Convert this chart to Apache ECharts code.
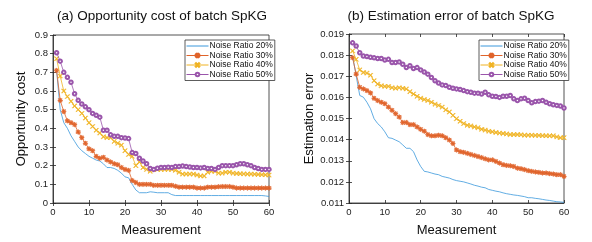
<!DOCTYPE html>
<html><head><meta charset="utf-8">
<script src="https://cdn.jsdelivr.net/npm/echarts@6/dist/echarts.min.js"></script>
<style>html,body{margin:0;padding:0;background:#fff}#c{width:592px;height:242px}</style>
</head><body><div id="c"></div>
<script>
const measurements = Array.from({length: 60}, (_, i) => i + 1);
const seriesNames = ['Noise Ratio 20%', 'Noise Ratio 30%', 'Noise Ratio 40%', 'Noise Ratio 50%'];

// (a) Opportunity cost
const oc20 = [0.71,0.50,0.43,0.40,0.36,0.33,0.30,0.28,0.265,0.25,0.24,0.23,0.225,0.21,0.19,0.19,0.185,0.175,0.16,0.14,0.135,0.10,0.07,0.055,0.055,0.055,0.06,0.058,0.055,0.055,0.055,0.055,0.045,0.04,0.04,0.04,0.04,0.04,0.04,0.04,0.04,0.04,0.04,0.04,0.04,0.04,0.04,0.04,0.04,0.04,0.04,0.04,0.04,0.04,0.04,0.04,0.04,0.04,0.038,0.035];
const oc30 = [0.71,0.55,0.49,0.44,0.43,0.42,0.38,0.35,0.32,0.29,0.28,0.25,0.24,0.245,0.23,0.22,0.21,0.205,0.19,0.18,0.175,0.12,0.11,0.10,0.10,0.10,0.10,0.095,0.095,0.095,0.095,0.095,0.095,0.09,0.085,0.085,0.085,0.085,0.085,0.08,0.08,0.08,0.085,0.085,0.085,0.087,0.088,0.088,0.088,0.085,0.08,0.08,0.08,0.08,0.08,0.08,0.08,0.08,0.08,0.08];
const oc40 = [0.773,0.68,0.60,0.57,0.545,0.52,0.50,0.48,0.455,0.43,0.41,0.39,0.375,0.355,0.35,0.35,0.33,0.32,0.31,0.28,0.26,0.25,0.20,0.22,0.19,0.18,0.17,0.18,0.18,0.18,0.18,0.18,0.18,0.175,0.165,0.155,0.155,0.155,0.155,0.15,0.145,0.145,0.165,0.17,0.17,0.16,0.16,0.165,0.165,0.16,0.158,0.157,0.156,0.155,0.155,0.154,0.153,0.152,0.151,0.15];
const oc50 = [0.805,0.76,0.70,0.673,0.647,0.585,0.55,0.53,0.515,0.50,0.48,0.47,0.46,0.39,0.39,0.365,0.357,0.357,0.35,0.348,0.345,0.27,0.265,0.24,0.225,0.21,0.185,0.18,0.186,0.19,0.19,0.192,0.19,0.195,0.195,0.198,0.195,0.193,0.19,0.19,0.188,0.19,0.185,0.185,0.18,0.19,0.20,0.20,0.20,0.20,0.205,0.21,0.21,0.205,0.20,0.19,0.185,0.18,0.18,0.18];

// (b) Estimation error
const ee20 = [0.01796,0.01702,0.01609,0.01601,0.01577,0.01546,0.01499,0.01476,0.0146,0.01437,0.01409,0.01406,0.01398,0.0139,0.01375,0.01359,0.01359,0.01343,0.01304,0.01273,0.0125,0.01247,0.01242,0.01237,0.01234,0.01226,0.01222,0.01218,0.01211,0.01206,0.01203,0.012,0.01195,0.0119,0.01184,0.0118,0.01175,0.01172,0.01164,0.0116,0.01156,0.01153,0.01148,0.01144,0.01141,0.01138,0.01136,0.01133,0.0113,0.01125,0.01125,0.01122,0.0112,0.01117,0.01114,0.01112,0.01109,0.01106,0.01105,0.01103];
const ee30 = [0.01788,0.0171,0.01648,0.0164,0.01632,0.01621,0.01596,0.01585,0.01577,0.0157,0.01554,0.01539,0.01523,0.01507,0.01481,0.01481,0.01471,0.01471,0.0146,0.01449,0.0144,0.01424,0.01418,0.01418,0.01421,0.01418,0.01409,0.01398,0.01382,0.01351,0.01343,0.0134,0.01335,0.0133,0.01325,0.0132,0.01315,0.01309,0.01304,0.01304,0.01297,0.01289,0.01281,0.01278,0.01276,0.01273,0.01265,0.01262,0.01258,0.01253,0.0125,0.01247,0.01245,0.01242,0.01242,0.01239,0.01237,0.01234,0.01234,0.01226];
const ee40 = [0.0182,0.0178,0.0173,0.01718,0.01715,0.01705,0.01679,0.01663,0.01655,0.01652,0.01652,0.01646,0.01643,0.01646,0.01643,0.0164,0.01627,0.01616,0.01605,0.01596,0.0159,0.01585,0.01577,0.01568,0.01562,0.01554,0.01541,0.01531,0.01515,0.01499,0.01487,0.01476,0.01468,0.01465,0.0146,0.01456,0.01449,0.01445,0.0144,0.01437,0.01434,0.01431,0.01429,0.01427,0.01424,0.01424,0.01424,0.01423,0.01421,0.01421,0.01421,0.0142,0.0142,0.01419,0.01418,0.01418,0.01418,0.01413,0.01409,0.01409];
const ee50 = [0.01858,0.01843,0.01811,0.01796,0.01793,0.0179,0.01787,0.01784,0.01784,0.01777,0.0178,0.01765,0.01765,0.01768,0.01757,0.01741,0.0175,0.01737,0.01741,0.0173,0.0172,0.0171,0.01694,0.01679,0.01668,0.01659,0.01656,0.01648,0.01643,0.0164,0.01637,0.01632,0.01627,0.01624,0.0162,0.0162,0.01616,0.01624,0.01612,0.01605,0.01604,0.016,0.01605,0.01605,0.01609,0.01593,0.01585,0.01593,0.01596,0.01585,0.01574,0.0158,0.01582,0.01585,0.01577,0.0157,0.01565,0.01562,0.01559,0.0155];

const xTicks = {min: 0, max: 60, interval: 10};
const ocTicks = {min: 0, max: 0.9, interval: 0.1};
const eeTicks = {min: 0.011, max: 0.019, interval: 0.001};

const colors = ['#3a98dc', '#e0632a', '#f0b323', '#9a55ab'];
const FONT = 'Liberation Sans';
const symX = 'path://M0,1 L1,0 L5,4 L9,0 L10,1 L6,5 L10,9 L9,10 L5,6 L1,10 L0,9 L4,5 Z';
const symStar = 'path://M4.3,0 H5.7 V3.3 L8.3,0.7 L9.3,1.7 L6.7,4.3 H10 V5.7 H6.7 L9.3,8.3 L8.3,9.3 L5.7,6.7 V10 H4.3 V6.7 L1.7,9.3 L0.7,8.3 L3.3,5.7 H0 V4.3 H3.3 L0.7,1.7 L1.7,0.7 L4.3,3.3 Z';
const symbols = ['circle', symStar, symX, 'emptyCircle'];
const symSizes = [0, 4.5, 4.5, 3.5];

const axisColor = '#262626';
const grids = [
  {left: 53, right: 323, top: 35, bottom: 36, show: true, borderColor: axisColor, borderWidth: 0.8, backgroundColor: 'transparent'},
  {left: 349, right: 28, top: 34, bottom: 37, show: true, borderColor: axisColor, borderWidth: 0.8, backgroundColor: 'transparent'}
];
function bottomX(g) {
  return {type: 'value', gridIndex: g, ...xTicks, position: 'bottom',
    name: 'Measurement', nameLocation: 'middle', nameGap: 21,
    nameTextStyle: {fontFamily: FONT, fontSize: 13, color: '#111'},
    axisLine: {onZero: false, lineStyle: {color: axisColor, width: 0.8}},
    axisTick: {inside: true, length: 3, lineStyle: {color: axisColor, width: 0.8}},
    axisLabel: {fontFamily: FONT, fontSize: 9.5, color: '#222', margin: 4},
    splitLine: {show: false}};
}
function topX(g) {
  return {type: 'value', gridIndex: g, ...xTicks, position: 'top',
    axisLine: {show: false},
    axisTick: {show: true, inside: true, length: 3, lineStyle: {color: axisColor, width: 0.8}},
    axisLabel: {show: false}, splitLine: {show: false}};
}
function leftY(g, ticks, name, gap) {
  return {type: 'value', gridIndex: g, ...ticks, position: 'left',
    name: name, nameLocation: 'middle', nameGap: gap,
    nameTextStyle: {fontFamily: FONT, fontSize: 13, color: '#111'},
    axisLine: {show: true, onZero: false, lineStyle: {color: axisColor, width: 0.8}},
    axisTick: {show: true, inside: true, length: 3, lineStyle: {color: axisColor, width: 0.8}},
    axisLabel: {fontFamily: FONT, fontSize: 9.5, color: '#222', margin: 5},
    splitLine: {show: false}};
}
function rightY(g, ticks) {
  return {type: 'value', gridIndex: g, ...ticks, position: 'right',
    axisLine: {show: false},
    axisTick: {show: true, inside: true, length: 3, lineStyle: {color: axisColor, width: 0.8}},
    axisLabel: {show: false}, splitLine: {show: false}};
}

function mk(name, idx, data, g) {
  return {name: name, type: 'line', xAxisIndex: g, yAxisIndex: g,
    data: measurements.map((m, i) => [m, data[i]]),
    symbol: symbols[idx], symbolSize: symSizes[idx], showSymbol: idx > 0,
    lineStyle: {width: 0.8, color: colors[idx]},
    itemStyle: {color: colors[idx], borderColor: colors[idx], borderWidth: 0.6},
    animation: false, z: 2 + idx};
}
const ocData = [oc20, oc30, oc40, oc50];
const eeData = [ee20, ee30, ee40, ee50];
const series = [];
seriesNames.forEach((n, i) => series.push(mk(n, i, ocData[i], 0)));
seriesNames.forEach((n, i) => series.push(mk(n, i, eeData[i], 1)));

function legend(left) {
  return {orient: 'vertical', left: left, top: 40, itemGap: 0.5, itemWidth: 22, itemHeight: 4.5,
    padding: [1.5, 2, 1.5, 1], borderColor: '#333', borderWidth: 0.8, backgroundColor: '#fff',
    lineStyle: {width: 1},
    textStyle: {fontFamily: FONT, fontSize: 8.5, color: '#111', padding: [0, 0, 0, -4]},
    data: seriesNames.map((n, i) => i === 0 ? {name: n, itemStyle: {opacity: 0}} : {name: n}),
    selectedMode: false};
}

const chart = echarts.init(document.getElementById('c'), null, {renderer: 'canvas'});
chart.setOption({
  animation: false,
  backgroundColor: '#fff',
  color: colors,
  title: [
    {text: '(a) Opportunity cost of batch SpKG', left: 157, top: 4, textAlign: 'center',
      textStyle: {fontFamily: FONT, fontSize: 13.5, fontWeight: 'normal', color: '#111'}},
    {text: '(b) Estimation error of batch SpKG', left: 446, top: 4, textAlign: 'center',
      textStyle: {fontFamily: FONT, fontSize: 13.5, fontWeight: 'normal', color: '#111'}}
  ],
  grid: grids,
  legend: [legend(185), legend(479)],
  xAxis: [bottomX(0), bottomX(1), topX(0), topX(1)],
  yAxis: [leftY(0, ocTicks, 'Opportunity cost', 25), leftY(1, eeTicks, 'Estimation error', 33), rightY(0, ocTicks), rightY(1, eeTicks)],
  series: series
});
</script></body></html>
